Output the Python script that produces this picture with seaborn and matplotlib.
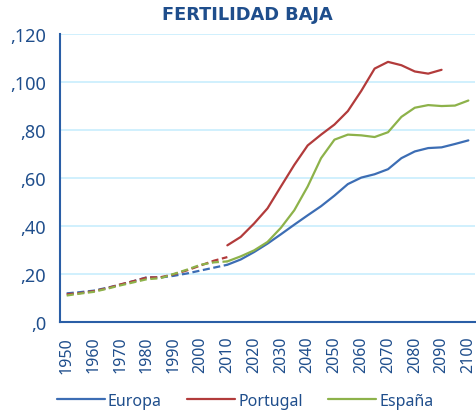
import matplotlib.pyplot as plt
import seaborn as sns
import pandas as pd

# historical (dashed) 1950-2010 and projection (solid) 2010-2100, every 5 years
hist_years = list(range(1950, 2011, 5))
proj_years = list(range(2010, 2101, 5))

europa_hist = [11.9, 12.4, 13.0, 14.2, 15.5, 17.0, 18.6, 18.5, 19.2, 20.2, 21.4, 22.6, 23.8]
portugal_hist = [11.5, 12.0, 12.8, 14.0, 15.6, 17.0, 18.5, 18.6, 19.8, 21.5, 23.5, 25.5, 27.0]
espana_hist = [11.0, 11.8, 12.5, 13.8, 15.2, 16.5, 17.8, 18.2, 20.0, 21.8, 23.8, 24.8, 25.2]

europa_proj = [23.8, 26.0, 29.1, 32.6, 36.5, 40.5, 44.4, 48.2, 52.6, 57.4,
               60.1, 61.5, 63.6, 68.2, 71.0, 72.4, 72.7, 74.1, 75.6]
portugal_proj = [31.9, 35.4, 41.0, 47.3, 56.4, 65.4, 73.5, 78.0, 82.2, 87.8,
                 96.2, 105.5, 108.3, 106.9, 104.3, 103.4, 105.0]
espana_proj = [25.2, 27.3, 29.8, 33.3, 39.2, 46.5, 56.4, 68.2, 75.9, 78.0,
               77.7, 77.0, 79.0, 85.4, 89.2, 90.3, 89.9, 90.1, 92.2]

series = ["Europa", "Portugal", "España"]
colors = {"Europa": "#3C6DB4", "Portugal": "#B23B3B", "España": "#8DB24A"}
y_ticks = [0, 20, 40, 60, 80, 100, 120]
y_labels = [",0", ",20", ",40", ",60", ",80", ",100", ",120"]
x_ticks = list(range(1950, 2101, 10))

text_color = "#1F4E8C"

sns.set_style("white")
plt.rcParams["font.family"] = ["Noto Sans", "DejaVu Sans"]

hist = {"Europa": europa_hist, "Portugal": portugal_hist, "España": espana_hist}
proj = {"Europa": europa_proj, "Portugal": portugal_proj, "España": espana_proj}

fig = plt.figure(figsize=(4.76, 4.14), dpi=100)
ax = fig.add_axes([0.126, 0.22, 0.872, 0.696])

for name in series:
    dh = pd.DataFrame({"year": hist_years, "value": hist[name]})
    dp = pd.DataFrame({"year": proj_years[:len(proj[name])], "value": proj[name]})
    sns.lineplot(data=dh, x="year", y="value", color=colors[name], lw=1.6,
                 ax=ax, zorder=3)
    ax.lines[-1].set_dashes([3.2, 1.6])
    sns.lineplot(data=dp, x="year", y="value", color=colors[name], lw=1.6,
                 ax=ax, label=name, zorder=3)

ax.set_xlim(1947.5, 2102.5)
ax.set_ylim(0, 120)
ax.set_yticks(y_ticks)
ax.set_yticklabels(y_labels)
ax.set_xticks(x_ticks)
ax.set_xticklabels([str(y) for y in x_ticks], rotation=90)
ax.tick_params(axis="both", colors=text_color, length=0)
ax.tick_params(axis="y", labelsize=13, pad=10)
ax.tick_params(axis="x", labelsize=11.5, pad=10)
ax.set_xlabel("")
ax.set_ylabel("")
ax.grid(axis="y", color="#C8EEFD", lw=1.2)
ax.set_axisbelow(True)

for side in ["top", "right"]:
    ax.spines[side].set_visible(False)
for side in ["left", "bottom"]:
    ax.spines[side].set_color("#2A5EA6")
    ax.spines[side].set_linewidth(1.5)

handles, labels = ax.get_legend_handles_labels()
ax.get_legend().remove()
leg = fig.legend(handles, labels, loc="center", bbox_to_anchor=(0.515, 0.03),
                 ncol=3, frameon=False, fontsize=11.5, handlelength=3.0,
                 handletextpad=0.2, columnspacing=1.6)
for t in leg.get_texts():
    t.set_color(text_color)

fig.text(0.52, 0.963, "FERTILIDAD BAJA", ha="center", va="center",
         fontsize=12.8, fontweight="bold", color=text_color,
         family="DejaVu Sans")

fig.savefig("out.png", dpi=100)
